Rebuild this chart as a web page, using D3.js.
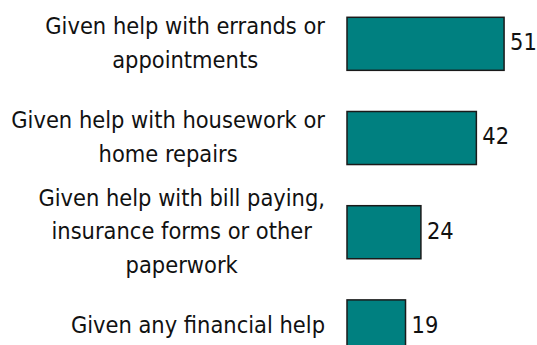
<!DOCTYPE html>
<html>
<head>
<meta charset="utf-8">
<script src="https://cdn.jsdelivr.net/npm/d3@7"></script>
<style>
  html, body { margin: 0; padding: 0; background: #fff; }
  svg { display: block; }
  text { font-family: "DejaVu Sans Condensed", "DejaVu Sans", sans-serif; font-stretch: condensed; fill: #111; }
</style>
</head>
<body>
<div id="chart"></div>
<script>
// Share of respondents who have given each kind of help (%)
const categories = [
  ["Given help with errands or", "appointments"],
  ["Given help with housework or", "home repairs"],
  ["Given help with bill paying,", "insurance forms or other", "paperwork"],
  ["Given any financial help"]
];
const values = [51, 42, 24, 19];

const W = 537, H = 345;
const fontSize = 23.4, lineGap = 33.5;
const labelRight = 325;

const svg = d3.select("#chart").append("svg")
  .attr("width", W).attr("height", H);

const x = d3.scaleLinear().domain([0, 100]).range([347, 347 + 308]);
const y = d3.scaleBand()
  .domain(d3.range(categories.length))
  .range([17.3, 17.3 + 94.2 * (categories.length - 0.437)])
  .paddingInner(0.437)
  .paddingOuter(0);

// Bars
svg.append("g").selectAll("rect")
  .data(values)
  .join("rect")
  .attr("x", x(0))
  .attr("y", (d, i) => y(i))
  .attr("width", d => x(d) - x(0))
  .attr("height", y.bandwidth())
  .attr("fill", "#008080")
  .attr("stroke", "#1a1a1a")
  .attr("stroke-width", 1.5);

// Value labels
svg.append("g").selectAll("text")
  .data(values)
  .join("text")
  .attr("x", d => x(d) + 6)
  .attr("y", (d, i) => y(i) + y.bandwidth() / 2)
  .attr("dy", "0.27em")
  .style("font-size", fontSize + "px")
  .text(d => d);

// Category labels: lines centred within a block that is right-aligned to the bars
const labels = svg.append("g");
categories.forEach((lines, i) => {
  const t = labels.append("text")
    .attr("text-anchor", "middle")
    .style("font-size", fontSize + "px");
  const cy = y(i) + y.bandwidth() / 2;
  const top = cy - (lines.length - 1) * lineGap / 2;
  const spans = lines.map((ln, j) => t.append("tspan")
    .attr("y", top + j * lineGap)
    .attr("dy", "0.3em")
    .text(ln));
  const maxW = d3.max(spans, s => s.node().getComputedTextLength());
  spans.forEach(s => s.attr("x", labelRight - maxW / 2));
});
</script>
</body>
</html>
